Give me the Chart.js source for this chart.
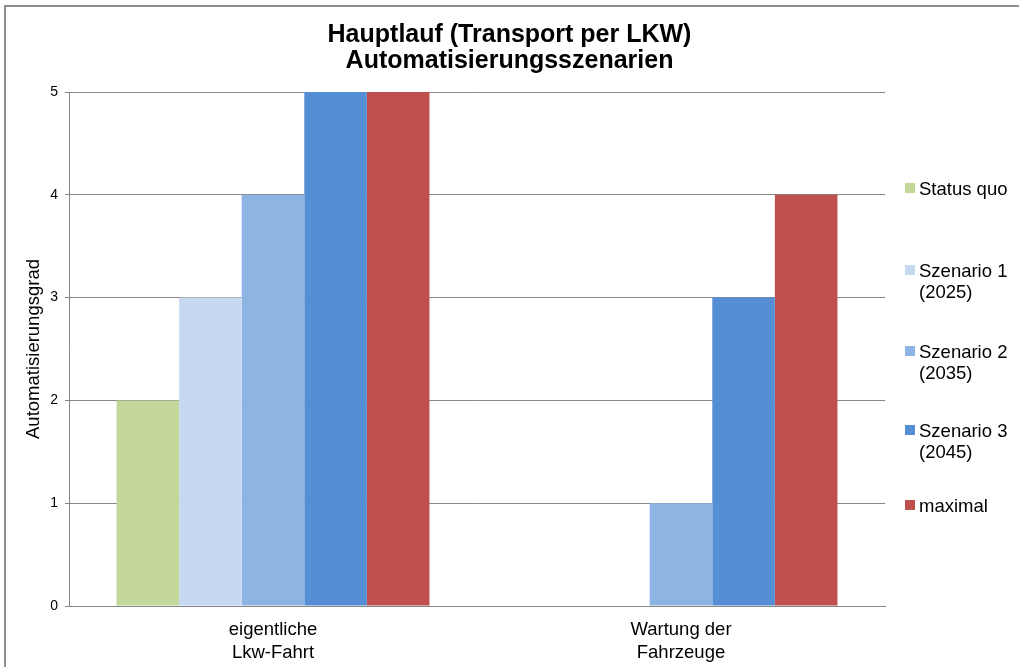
<!DOCTYPE html>
<html>
<head>
<meta charset="utf-8">
<title>Hauptlauf Automatisierungsszenarien</title>
<script src="https://cdn.jsdelivr.net/npm/chart.js@4.4.1/dist/chart.umd.min.js"></script>
<style>
  html, body { margin: 0; padding: 0; background: #fff; }
  #wrap { position: relative; width: 1019px; height: 667px; overflow: hidden; }
  #frame { position: absolute; left: 4px; top: 5px; width: 1100px; height: 800px; border: 2px solid #8e8e8e; box-sizing: border-box; }
  #chart { position: absolute; left: 0; top: 0; }
  #legend { position: absolute; left: 905px; top: 0; font-family: "Liberation Sans", Arial, sans-serif; font-size: 18.5px; color: #000; }
  .item { position: absolute; left: 0; display: flex; white-space: pre; line-height: 21px; }
  .box { width: 10px; height: 10px; margin-top: 5px; margin-right: 4px; flex: none; }
</style>
</head>
<body>
<div id="wrap">
  <div id="frame"></div>
  <canvas id="chart" width="1019" height="667"></canvas>
  <div id="legend"></div>
</div>
<script>
// data
const categories = [["eigentliche", "Lkw-Fahrt"], ["Wartung der", "Fahrzeuge"]];
const seriesNames = ["Status quo", "Szenario 1 (2025)", "Szenario 2 (2035)", "Szenario 3 (2045)", "maximal"];
const statusQuo = [2, 0];
const szenario1 = [3, 0];
const szenario2 = [4, 1];
const szenario3 = [5, 3];
const maximal = [5, 4];
const yTicks = [0, 1, 2, 3, 4, 5];

const seriesColors = ["#c4d79b", "#c6d9f1", "#8db4e2", "#558ed5", "#c0504d"];
const FONT = '"Liberation Sans", Arial, sans-serif';
const GRID = "#878787";

const values = [statusQuo, szenario1, szenario2, szenario3, maximal];

// MODULE: chart
const ctx = document.getElementById("chart").getContext("2d");
new Chart(ctx, {
  type: "bar",
  data: {
    labels: categories,
    datasets: seriesNames.map((name, i) => ({
      label: name,
      data: values[i],
      backgroundColor: seriesColors[i],
      borderWidth: 0,
      categoryPercentage: 0.767,
      barPercentage: 1
    }))
  },
  options: {
    responsive: false,
    animation: false,
    layout: { padding: 0 },
    plugins: {
      legend: { display: false },
      tooltip: { enabled: false },
      title: {
        display: true,
        text: ["Hauptlauf (Transport per LKW)", "Automatisierungsszenarien"],
        color: "#000",
        font: { family: FONT, size: 25, weight: "bold", lineHeight: 1.04 },
        padding: { top: 22, bottom: 18 }
      }
    },
    scales: {
      x: {
        grid: { display: false, drawTicks: false },
        border: { display: true, color: GRID, width: 1 },
        ticks: { color: "#000", font: { family: FONT, size: 18.5, lineHeight: 1.24 }, padding: 12 },
        afterFit: s => { s.height = 61; }
      },
      y: {
        min: 0,
        max: 5,
        afterBuildTicks: s => { s.ticks = yTicks.map(v => ({ value: v })); },
        ticks: { color: "#000", font: { family: FONT, size: 14 }, padding: 7 },
        grid: { color: GRID, tickLength: 4 },
        border: { color: GRID },
        title: {
          display: true,
          text: "Automatisierungsgrad",
          color: "#000",
          font: { family: FONT, size: 18.5 },
          padding: { top: 23, bottom: 0 }
        },
        afterFit: s => { s.width = 69; }
      },
      // empty right-hand box that keeps room for the HTML legend,
      // so the title stays centred on the whole chart
      legendSpace: {
        type: "linear",
        position: "right",
        grid: { display: false, drawTicks: false },
        border: { display: false },
        ticks: { display: false },
        afterFit: s => { s.width = 134; }
      }
    }
  }
});

// MODULE: legend (Excel-style, two-line labels)
const legendCenters = [188, 270, 351, 430, 505];
document.getElementById("legend").innerHTML = seriesNames.map((name, i) => `
  <div class="item" style="top:${legendCenters[i] - 10.5}px">
    <div class="box" style="background:${seriesColors[i]}"></div>
    <div>${name.replace(" (", "\n(")}</div>
  </div>`).join("");
</script>
</body>
</html>
